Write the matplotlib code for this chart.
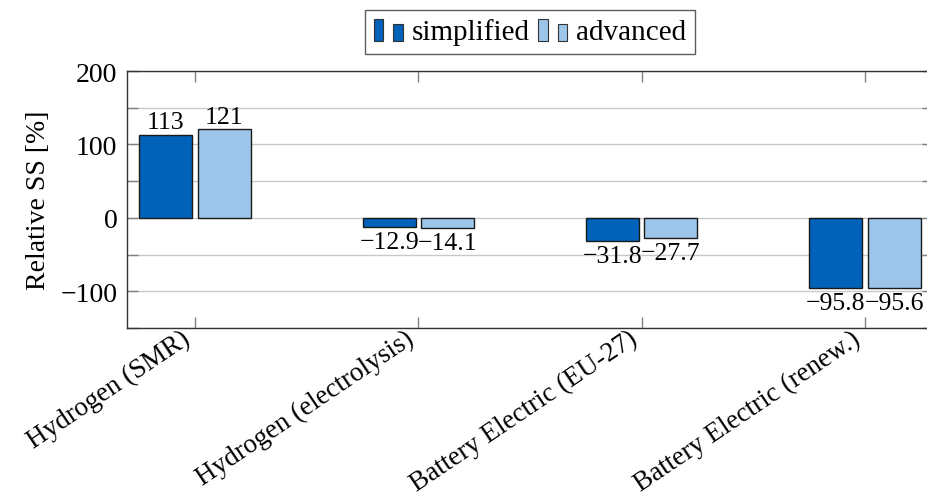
import matplotlib
matplotlib.use("Agg")
import matplotlib.pyplot as plt
import matplotlib.transforms as mtransforms
import numpy as np
from matplotlib.legend_handler import HandlerBase
from matplotlib.patches import Rectangle
from matplotlib.ticker import MultipleLocator

categories = ["Hydrogen (SMR)", "Hydrogen (electrolysis)", "Battery Electric (EU-27)", "Battery Electric (renew.)"]
simplified = [113, -12.9, -31.8, -95.8]
advanced = [121, -14.1, -27.7, -95.6]
simplified_labels = ["113", "\u221212.9", "\u221231.8", "\u221295.8"]
advanced_labels = ["121", "\u221214.1", "\u221227.7", "\u221295.6"]
yticks = [-100, 0, 100, 200]
ytick_labels = ["\u2212100", "0", "100", "200"]

DARK = "#0062B8"
LIGHT = "#9CC5E9"
FONT = "Liberation Serif"
FS_NUM = 20
FS_TXT = 21
FS_XT = 19.5
FS_BAR = 18.5

plt.rcParams["font.family"] = [FONT, "DejaVu Serif"]

fig = plt.figure(figsize=(9.27, 5.02), dpi=100)
L, R, B, T = 127 / 927, 933 / 927, 1 - 329 / 502, 1 - 72 / 502
ax = fig.add_axes([L, B, R - L, T - B])

x = np.arange(len(categories))
w = 0.237
off = 0.131
b1 = ax.bar(x - off, simplified, w, color=DARK, edgecolor="#1a1a1a", linewidth=1.0, zorder=3, label="simplified")
b2 = ax.bar(x + off, advanced, w, color=LIGHT, edgecolor="#1a1a1a", linewidth=1.0, zorder=3, label="advanced")

for bars, labels in ((b1, simplified_labels), (b2, advanced_labels)):
    for rect, lab in zip(bars, labels):
        v = rect.get_height()
        cx = rect.get_x() + rect.get_width() / 2
        if v >= 0:
            ax.annotate(lab, (cx, v), xytext=(0, 1), textcoords="offset points",
                        ha="center", va="bottom", fontsize=FS_BAR, zorder=4)
        else:
            ax.annotate(lab, (cx, v), xytext=(0, -3), textcoords="offset points",
                        ha="center", va="top", fontsize=FS_BAR, zorder=4)

ax.set_xlim(-0.305, 3.305)
ax.set_ylim(-150, 200)
ax.set_yticks(yticks)
ax.set_yticklabels(ytick_labels, fontsize=FS_NUM)
ax.yaxis.set_minor_locator(MultipleLocator(50))
ax.grid(axis="y", which="both", color="#c8c8c8", linewidth=1.0, zorder=0)
ax.set_axisbelow(True)

ax.set_xticks(x)
ax.set_xticklabels(categories, fontsize=FS_XT, rotation=34,
                   ha="right", va="center", rotation_mode="anchor")
ax.tick_params(axis="both", which="both", direction="in", length=8, width=1.0,
               color="#808080", top=True, right=True)
ax.tick_params(axis="y", which="major", pad=7)
ax.tick_params(axis="x", which="major", pad=5)

shift = mtransforms.ScaledTranslation(-5 / 72, -1 / 72, fig.dpi_scale_trans)
for lbl in ax.get_xticklabels():
    lbl.set_transform(lbl.get_transform() + shift)

for s in ax.spines.values():
    s.set_color("#333333")
    s.set_linewidth(1.0)

ax.set_ylabel("Relative SS [%]", fontsize=FS_NUM)
ax.yaxis.set_label_coords(-0.094, 0.5)


class TwoBarHandler(HandlerBase):
    def __init__(self, color):
        super().__init__()
        self.color = color

    def create_artists(self, legend, orig_handle, xdescent, ydescent, width, height, fontsize, trans):
        bw = width * 0.33
        r1 = Rectangle((-xdescent, -ydescent - height * 0.1), bw, height * 1.1,
                       facecolor=self.color, edgecolor="#333333", linewidth=0.8, transform=trans)
        r2 = Rectangle((-xdescent + width * 0.67, -ydescent - height * 0.1), bw, height * 0.85,
                       facecolor=self.color, edgecolor="#333333", linewidth=0.8, transform=trans)
        return [r1, r2]


leg = ax.legend([b1, b2], ["simplified", "advanced"], ncol=2, loc="lower center",
                bbox_to_anchor=(0.5, 1.0 + 17 / 257), fontsize=FS_TXT, frameon=True, fancybox=False,
                edgecolor="#333333", handlelength=1.0, handletextpad=0.3, columnspacing=0.3,
                borderpad=0.3, borderaxespad=0.0,
                handler_map={b1: TwoBarHandler(DARK), b2: TwoBarHandler(LIGHT)})
leg.get_frame().set_linewidth(1.0)

fig.savefig("out.png", dpi=100)
